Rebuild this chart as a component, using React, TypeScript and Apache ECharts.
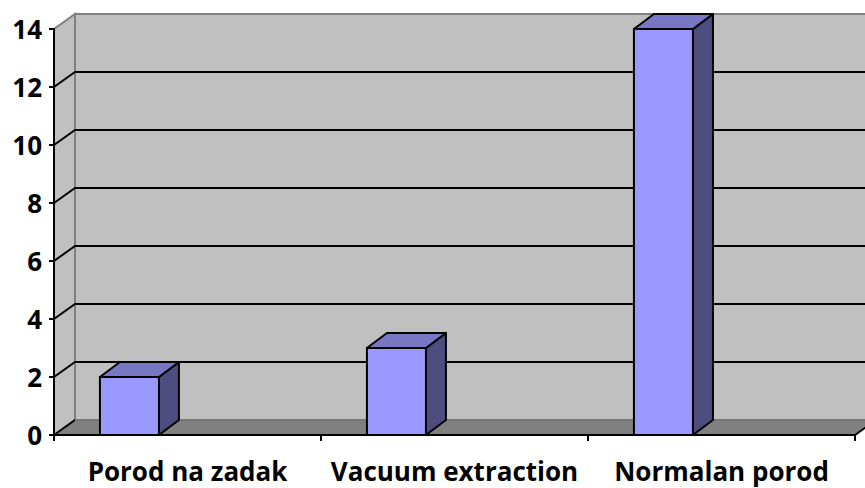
import React, { useEffect, useRef } from "react";
import * as echarts from "echarts";

const categories = ["Porod na zadak", "Vacuum extraction", "Normalan porod"];
const values = [2, 3, 14];
const yTicks = [0, 2, 4, 6, 8, 10, 12, 14];
const yMax = 14;

const WALL_DX = 21;
const WALL_DY = -15;
const BAR_DX = 20;
const BAR_DY = -15;

export default function App() {
  const ref = useRef<HTMLDivElement>(null);
  useEffect(() => {
    document.body.style.margin = "0";
    if (!ref.current) return;
    const chart = echarts.init(ref.current, null, { renderer: "svg" });
    const font = "'Open Sans', sans-serif";

    const wallsRender = (params: any, api: any) => {
      const band = api.size([1, 0])[0];
      const p0 = api.coord([0, 0]);
      const pTop = api.coord([0, yMax]);
      const pLast = api.coord([categories.length - 1, 0]);
      const xl = p0[0] - band / 2;
      const xr = pLast[0] + band / 2;
      const yb = p0[1];
      const yt = pTop[1];
      const children: any[] = [
        {
          type: "polygon",
          shape: { points: [[xl, yt], [xl + WALL_DX, yt + WALL_DY], [xl + WALL_DX, yb + WALL_DY], [xl, yb]] },
          style: { fill: "#c0c0c0", stroke: "#808080", lineWidth: 2 },
        },
        {
          type: "rect",
          shape: { x: xl + WALL_DX, y: yt + WALL_DY, width: xr - xl + 40, height: yb - yt },
          style: { fill: "#c0c0c0", stroke: "#808080", lineWidth: 2 },
        },
        {
          type: "polygon",
          shape: { points: [[xl, yb], [xl + WALL_DX, yb + WALL_DY], [xr + WALL_DX, yb + WALL_DY], [xr, yb]] },
          style: { fill: "#808080", stroke: "#000", lineWidth: 2 },
        },
        {
          type: "line",
          shape: { x1: xl + WALL_DX, y1: yb + WALL_DY, x2: xr + WALL_DX + 20, y2: yb + WALL_DY },
          style: { stroke: "#a0a0a0", lineWidth: 1.5 },
        },
      ];
      yTicks.forEach((t) => {
        if (t === 0 || t === yMax) return;
        const y = api.coord([0, t])[1];
        children.push({
          type: "polyline",
          shape: { points: [[xl, y], [xl + WALL_DX, y + WALL_DY], [xr + WALL_DX + 20, y + WALL_DY]] },
          style: { stroke: "#000", lineWidth: 2, fill: null },
        });
      });
      return { type: "group", children };
    };

    const barsRender = (params: any, api: any) => {
      const idx = api.value(0);
      const v = api.value(1);
      const band = api.size([1, 0])[0];
      const top = api.coord([idx, v]);
      const base = api.coord([idx, 0]);
      const left = top[0] - band / 2 + band * 0.172;
      const w = band * 0.221;
      const y = top[1];
      const y0 = base[1];
      return {
        type: "group",
        children: [
          {
            type: "polygon",
            shape: { points: [[left + w, y], [left + w + BAR_DX, y + BAR_DY], [left + w + BAR_DX, y0 + BAR_DY], [left + w, y0]] },
            style: { fill: "#4d4d7f", stroke: "#000", lineWidth: 2, lineJoin: "round" },
          },
          {
            type: "polygon",
            shape: { points: [[left, y], [left + BAR_DX, y + BAR_DY], [left + w + BAR_DX, y + BAR_DY], [left + w, y]] },
            style: { fill: "#7777c4", stroke: "#000", lineWidth: 2, lineJoin: "round" },
          },
          {
            type: "rect",
            shape: { x: left, y, width: w, height: y0 - y },
            style: { fill: "#9999ff", stroke: "#000", lineWidth: 2 },
          },
        ],
      };
    };

    chart.setOption({
      animation: false,
      grid: { left: 54, right: 10, top: 29, bottom: 53, containLabel: false },
      xAxis: {
        type: "category",
        data: categories,
        boundaryGap: true,
        axisLine: { show: true, lineStyle: { color: "#000", width: 2 } },
        axisTick: { show: true, length: 6, lineStyle: { color: "#000", width: 2 } },
        axisLabel: {
          color: "#000",
          fontFamily: font,
          fontWeight: "bold",
          fontSize: 26,
          margin: 23,
          interval: 0,
          hideOverlap: false,
        },
        splitLine: { show: false },
        z: 10,
      },
      yAxis: {
        type: "value",
        min: 0,
        max: yMax,
        interval: 2,
        axisLine: { show: true, lineStyle: { color: "#000", width: 2 } },
        axisTick: { show: true, length: 5, lineStyle: { color: "#000", width: 2 } },
        axisLabel: { color: "#000", fontFamily: font, fontWeight: "bold", fontSize: 26, margin: 12 },
        splitLine: { show: false },
        z: 10,
      },
      series: [
        {
          type: "custom",
          name: "walls",
          coordinateSystem: "cartesian2d",
          renderItem: wallsRender,
          data: [[0, 0]],
          encode: { x: 0, y: 1 },
          silent: true,
          clip: false,
          z: 1,
        },
        {
          type: "custom",
          name: "values",
          coordinateSystem: "cartesian2d",
          renderItem: barsRender,
          data: values.map((v, i) => [i, v]),
          encode: { x: 0, y: 1 },
          clip: false,
          z: 5,
        },
      ],
    });
    return () => chart.dispose();
  }, []);
  return <div ref={ref} style={{ width: 865, height: 488 }} />;
}
